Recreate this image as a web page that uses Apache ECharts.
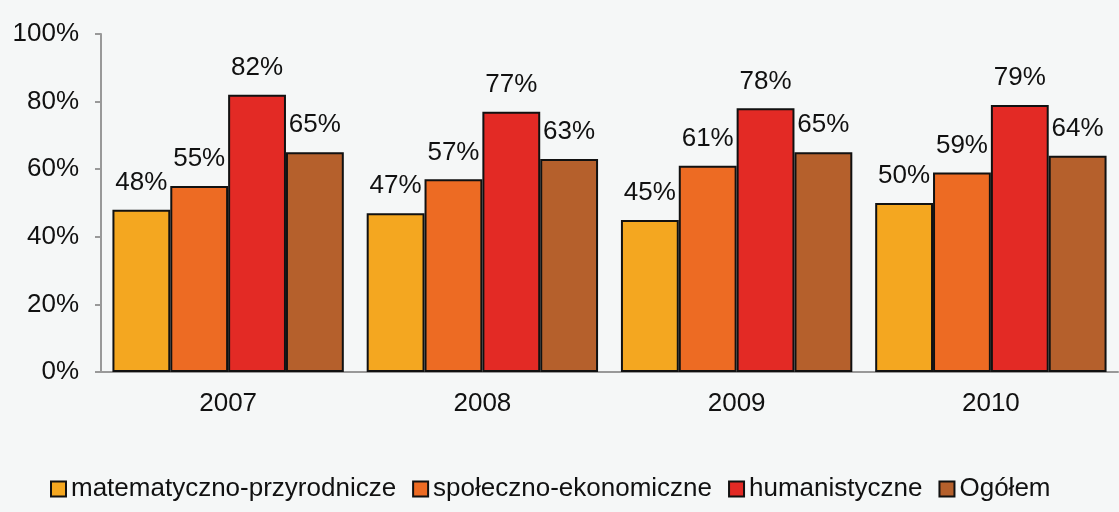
<!DOCTYPE html>
<html>
<head>
<meta charset="utf-8">
<script src="https://cdn.jsdelivr.net/npm/echarts@6/dist/echarts.min.js"></script>
<style>
  html, body { margin: 0; padding: 0; background: #f5f7f7; }
  #chart { width: 1119px; height: 512px; }
</style>
</head>
<body>
<div id="chart"></div>
<script>
// dane
const years = ['2007', '2008', '2009', '2010'];
const seriesNames = ['matematyczno-przyrodnicze', 'społeczno-ekonomiczne', 'humanistyczne', 'Ogółem'];
const matPrzyr = [48, 47, 45, 50];
const spolEkon = [55, 57, 61, 59];
const human = [82, 77, 78, 79];
const ogolem = [65, 63, 65, 64];
const colors = ['#f4a720', '#ed6b23', '#e32a25', '#b5602c'];

const allData = [matPrzyr, spolEkon, human, ogolem];
const font = 'Liberation Sans, Arial, sans-serif';

const chart = echarts.init(document.getElementById('chart'));
chart.setOption({
    backgroundColor: '#f5f7f7',
    animation: false,
    color: colors,
    grid: { left: 101, right: 1, top: 34, bottom: 140 },
    legend: {
        bottom: 5,
        left: 45,
        itemWidth: 15,
        itemHeight: 15,
        itemGap: 16,
        icon: 'rect',
        itemStyle: { borderColor: '#111', borderWidth: 2 },
        textStyle: { fontFamily: font, fontSize: 26, color: '#111' },
        data: seriesNames
    },
    xAxis: {
        type: 'category',
        data: years,
        axisLine: { lineStyle: { color: '#999', width: 2 } },
        axisTick: { length: 8, lineStyle: { color: '#999', width: 2 } },
        axisLabel: { fontFamily: font, fontSize: 26, color: '#111', margin: 19 }
    },
    yAxis: {
        type: 'value',
        min: 0,
        max: 100,
        interval: 20,
        axisLine: { show: true, lineStyle: { color: '#999', width: 2 } },
        axisTick: { show: true, length: 6, lineStyle: { color: '#999', width: 2 } },
        splitLine: { show: false },
        axisLabel: {
            fontFamily: font, fontSize: 26, color: '#111', margin: 22,
            formatter: v => v + '%'
        }
    },
    series: seriesNames.map((name, i) => ({
        name: name,
        type: 'bar',
        data: allData[i],
        barGap: '0%',
        barCategoryGap: '9%',
        itemStyle: { borderColor: '#111', borderWidth: 2 },
        label: {
            show: true,
            position: 'top',
            distance: 14,
            fontFamily: font,
            fontSize: 26,
            color: '#111',
            formatter: p => p.value + '%'
        }
    }))
});
</script>
</body>
</html>
